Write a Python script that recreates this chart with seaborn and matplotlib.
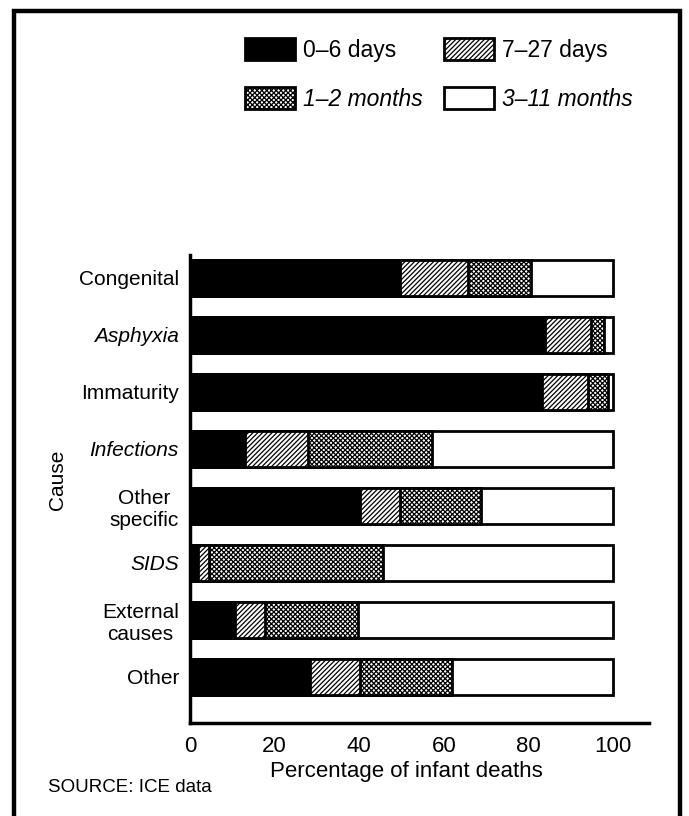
import matplotlib
matplotlib.use("Agg")
import matplotlib.pyplot as plt
from matplotlib.patches import Rectangle
import numpy as np
import pandas as pd
import seaborn as sns

# Data (percentage of infant deaths by age at death)
causes = ["Congenital", "Asphyxia", "Immaturity", "Infections",
          "Other\nspecific", "SIDS", "External\ncauses", "Other"]
days_0_6 = [49.6, 83.9, 83.1, 13.0, 40.2, 1.9, 10.6, 28.4]
days_7_27 = [16.1, 10.8, 11.0, 14.8, 9.4, 2.6, 7.1, 11.9]
months_1_2 = [14.8, 3.2, 4.7, 29.4, 19.1, 41.1, 22.0, 21.6]
months_3_11 = [19.5, 2.1, 1.2, 42.8, 31.3, 54.4, 60.3, 38.1]
ticks = [0, 20, 40, 60, 80, 100]
italic_causes = ["Asphyxia", "Infections", "SIDS"]

segs = ["0\u20136 days", "7\u201327 days", "1\u20132 months", "3\u201311 months"]
df = pd.DataFrame({"cause": causes, segs[0]: days_0_6, segs[1]: days_7_27,
                   segs[2]: months_1_2, segs[3]: months_3_11})
cum = df[segs].cumsum(axis=1)
cum["cause"] = df["cause"]

sns.set_style("white")
plt.rcParams["font.family"] = ["Liberation Sans", "DejaVu Sans"]
plt.rcParams["hatch.linewidth"] = 0.9
for k in ["text.color", "axes.labelcolor", "xtick.color", "ytick.color"]:
    plt.rcParams[k] = "black"

fig = plt.figure(figsize=(6.89, 8.16), dpi=100)
ax = fig.add_axes([190 / 689, 1 - 723 / 816, 459 / 689, 468 / 816])

# stacked bars: draw cumulative totals from the outside in
styles = {
    segs[3]: dict(color="white", hatch=None),
    segs[2]: dict(color="white", hatch="xxxxxxx"),
    segs[1]: dict(color="white", hatch="///////"),
    segs[0]: dict(color="black", hatch=None),
}
for seg in reversed(segs):
    sns.barplot(data=cum, x=seg, y="cause", orient="h", width=0.63,
                color=styles[seg]["color"], hatch=styles[seg]["hatch"],
                saturation=1, edgecolor="black", linewidth=2,
                label=seg, ax=ax)
if ax.get_legend() is not None:
    ax.get_legend().remove()

ax.set_xlim(0, 108.5)
ax.set_ylim(7.81, -0.40)
ax.set_xticks(ticks)
ax.tick_params(axis="x", direction="in", length=16, width=2, pad=9,
               labelsize=16, color="black")
ax.tick_params(axis="y", length=0, pad=8, labelsize=15)
for s in ["top", "right"]:
    ax.spines[s].set_visible(False)
for s in ["left", "bottom"]:
    ax.spines[s].set_linewidth(2.5)
    ax.spines[s].set_color("black")

for lbl in ax.get_yticklabels():
    lbl.set_multialignment("center")
    if lbl.get_text() in italic_causes:
        lbl.set_fontstyle("italic")

ax.set_xlabel("Percentage of infant deaths", fontsize=16, va="top")
ax.xaxis.set_label_coords((406 - 190) / 459, (723 - 761) / 468)
ax.set_ylabel("Cause", fontsize=15)
ax.yaxis.set_label_coords((67 - 190) / 459, (723 - 480) / 468)

# legend: two rows, reading across
hmap = {c.get_label(): c for c in ax.containers}
order = [segs[0], segs[2], segs[1], segs[3]]
leg = fig.legend([hmap[s] for s in order], order, ncol=2, frameon=False,
                 loc="upper left", bbox_to_anchor=(245 / 689, 1 - 38 / 816),
                 fontsize=16.5, handlelength=2.2, handleheight=1.1,
                 handletextpad=0.35, columnspacing=0.9, labelspacing=1.1,
                 borderpad=0, borderaxespad=0)
for t in leg.get_texts():
    if "months" in t.get_text():
        t.set_fontstyle("italic")

fig.text(48 / 689, 1 - 788 / 816, "SOURCE: ICE data", fontsize=13.5,
         ha="left", va="center")

fig.patches.append(Rectangle((14 / 689, -0.05), 666 / 689, 1.05 - 11 / 816,
                             transform=fig.transFigure, fill=False,
                             edgecolor="black", linewidth=3.2))

fig.savefig("out.png", dpi=100)
